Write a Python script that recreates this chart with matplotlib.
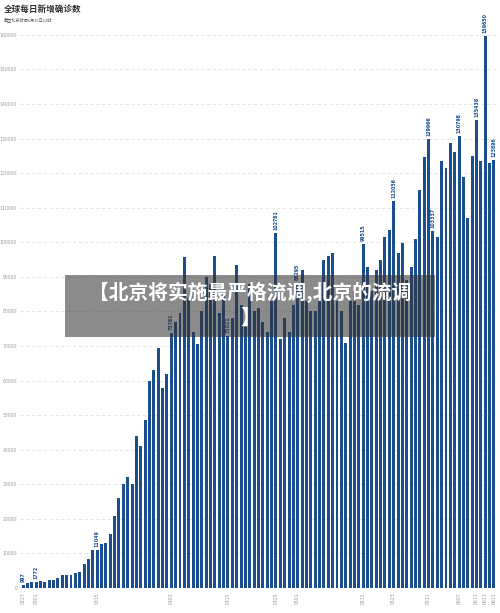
import matplotlib
matplotlib.use("Agg")
import matplotlib.pyplot as plt
from matplotlib.patches import Rectangle

plt.rcParams['font.family'] = ['Noto Sans CJK SC', 'DejaVu Sans']

# ---- data (daily new confirmed cases, global) ----
values = [
    997, 1500, 1800, 1772, 2100, 1800, 2200, 2400, 3000, 3900,
    3900, 3900, 4400, 4700, 7000, 8500, 10900, 11049, 12800, 13000,
    15700, 20800, 26000, 30000, 32000, 30000, 44000, 41000, 48600, 60000,
    63000, 69400, 58000, 62000, 73761, 77000, 79600, 95800, 84000, 74000,
    70500, 80000, 90000, 88000, 96000, 79600, 85000, 73021, 78000, 93500,
    82000, 75500, 88000, 80000, 81000, 77000, 74000, 83000, 102761, 72000,
    78000, 74000, 82000, 88295, 92000, 83000, 80000, 80000, 84000, 95000,
    96000, 97000, 83000, 80000, 71000, 83000, 86000, 82000, 99515, 93000,
    86000, 92000, 95000, 101600, 103600, 112056, 97000, 99800, 89000, 93000,
    101000, 115000, 124700, 129966, 103337, 101500, 123500, 121500, 128800, 126000,
    130798, 119000, 107000, 125000, 135438, 123500, 159650, 123000, 123896,
]
annot_idx = [0, 3, 17, 34, 47, 58, 63, 78, 85, 93, 94, 100, 104, 106, 108]
tick_idx = [0, 3, 17, 34, 47, 58, 63, 78, 85, 93, 100, 104, 106, 108]
tick_labels = ["0227", "0301", "0315", "0401", "0415", "0425", "0501",
               "0515", "0523", "0531", "0607", "0611", "0613", "0615"]
y_ticks = list(range(0, 160001, 10000))

title = "全球每日新增确诊数"
subtitle = "截至北京时间6月15日12时"
overlay_line1 = "【北京将实施最严格流调,北京的流调"
overlay_line2 = "】"

W, H = 500, 613
fig = plt.figure(figsize=(W / 100, H / 100), dpi=100)
fig.patch.set_facecolor("white")

ax_left, ax_right = 20, 497
ax_bottom, ax_top = 588, 28
ax = fig.add_axes([ax_left / W, 1 - ax_bottom / H,
                   (ax_right - ax_left) / W, (ax_bottom - ax_top) / H])

bar_color = "#1b4e8e"
x = list(range(len(values)))
ax.bar(x, values, width=0.68, color=bar_color, zorder=2)

ax.set_xlim(-0.7, len(values) - 0.3)
ax.set_ylim(0, 162000)

ax.set_yticks(y_ticks)
ax.set_yticklabels([str(v) for v in y_ticks], fontsize=3.3, color="#9a9a9a",
                   family="DejaVu Sans")
ax.yaxis.grid(True, linestyle=(0, (4, 3)), color="#e2e2e2", linewidth=0.6, zorder=0)
ax.tick_params(axis="y", length=0, pad=2)

ax.set_xticks(tick_idx)
ax.set_xticklabels(tick_labels, rotation=90, fontsize=3.3, color="#9a9a9a",
                   family="DejaVu Sans")
ax.tick_params(axis="x", length=0, pad=3)

for s in ax.spines.values():
    s.set_visible(False)

for i in annot_idx:
    ax.annotate(str(values[i]), (i, values[i]), xytext=(0, 2),
                textcoords="offset points", rotation=90, ha="center",
                va="bottom", fontsize=3.4, color=bar_color,
                family="DejaVu Sans", fontweight="bold")

fig.text(4 / W, 1 - 9 / H, title, fontsize=6.2, fontweight="bold",
         color="#333333", va="center", ha="left")
fig.text(4 / W, 1 - 19.5 / H, subtitle, fontsize=3.0, color="#555555",
         va="center", ha="left")

# overlay banner
rx0, rx1, ry0, ry1 = 65, 435, 275, 337
fig.patches.append(Rectangle((rx0 / W, 1 - ry1 / H), (rx1 - rx0) / W,
                             (ry1 - ry0) / H, transform=fig.transFigure,
                             facecolor=(0.2, 0.2, 0.2), alpha=0.57,
                             edgecolor="none", zorder=5))
fig.text(0.5, 1 - 292 / H, overlay_line1, fontsize=14.2, fontweight="bold",
         color="white", ha="center", va="center", zorder=6)
fig.text(0.5, 1 - 318 / H, overlay_line2, fontsize=14.2, fontweight="bold",
         color="white", ha="center", va="center", zorder=6)

fig.savefig("out.png", dpi=100, facecolor="white")
